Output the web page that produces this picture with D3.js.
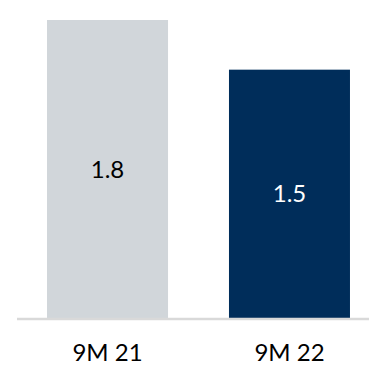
<!DOCTYPE html>
<html>
<head>
<meta charset="utf-8">
<script src="https://cdn.jsdelivr.net/npm/d3@7"></script>
<style>
  html, body { margin: 0; padding: 0; background: #fff; }
  svg { display: block; }
  text { font-family: Lato, "Open Sans", sans-serif; }
</style>
</head>
<body>
<svg id="chart" width="369" height="365"></svg>
<script>
// Period totals
const categories = ["9M 21", "9M 22"];
const values = [1.8, 1.5];
const barColors = ["#d1d6da", "#002d5a"];
const labelColors = ["#000000", "#ffffff"];

const width = 369, height = 365;
const baseline = 318;

const svg = d3.select("#chart");

const x = d3.scaleBand()
  .domain(categories)
  .range([17, 380])
  .paddingInner(0.335)
  .paddingOuter(0.165);

const y = d3.scaleLinear()
  .domain([0, d3.max(values)])
  .range([baseline, 20]);

const rows = categories.map((c, i) => ({ cat: c, value: values[i], i }));

// bars
svg.append("g")
  .selectAll("rect")
  .data(rows)
  .join("rect")
  .attr("x", d => x(d.cat))
  .attr("y", d => y(d.value))
  .attr("width", x.bandwidth())
  .attr("height", d => y(0) - y(d.value))
  .attr("fill", d => barColors[d.i]);

// value labels centred in each bar
svg.append("g")
  .selectAll("text")
  .data(rows)
  .join("text")
  .attr("x", d => x(d.cat) + x.bandwidth() / 2)
  .attr("y", d => (y(d.value) + y(0)) / 2)
  .attr("dy", "0.36em")
  .attr("text-anchor", "middle")
  .attr("font-size", 24)
  .attr("fill", d => labelColors[d.i])
  .text(d => d.value.toFixed(1));

// category axis
const axis = svg.append("g")
  .attr("transform", `translate(0,${baseline + 1})`)
  .call(d3.axisBottom(x).tickSize(0).tickPadding(25));

axis.select(".domain")
  .attr("d", `M17,0H${width}`)
  .attr("stroke", "#d9d9d9")
  .attr("stroke-width", 2.5);

axis.selectAll(".tick text")
  .attr("font-family", "Lato, 'Open Sans', sans-serif")
  .attr("font-size", 24)
  .attr("fill", "#000");
</script>
</body>
</html>
